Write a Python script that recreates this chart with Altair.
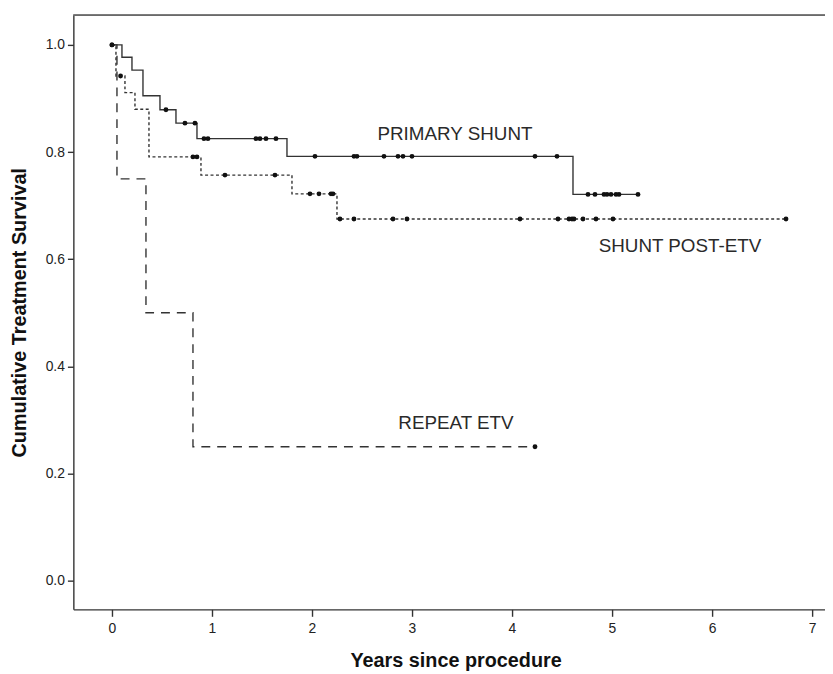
import altair as alt
import pandas as pd

# ---- data ----
groups = ["PRIMARY SHUNT", "SHUNT POST-ETV", "REPEAT ETV"]

primary_times = [0.0, 0.10, 0.20, 0.31, 0.48, 0.64, 0.85, 1.75, 4.61, 5.26]
primary_surv = [1.0, 0.977, 0.953, 0.905, 0.879, 0.854, 0.825, 0.792, 0.721, 0.721]
primary_censor = [0.0, 0.54, 0.73, 0.83, 0.92, 0.96, 1.44, 1.48, 1.54, 1.64, 2.03,
                  2.42, 2.45, 2.72, 2.86, 2.91, 3.00, 4.23, 4.45, 4.76, 4.83, 4.92,
                  4.95, 4.99, 5.04, 5.07, 5.26]

post_times = [0.0, 0.04, 0.13, 0.23, 0.37, 0.89, 1.80, 2.25, 6.74]
post_surv = [1.0, 0.942, 0.911, 0.880, 0.791, 0.757, 0.722, 0.675, 0.675]
post_censor = [0.0, 0.086, 0.81, 0.85, 1.13, 1.63, 1.98, 2.07, 2.19, 2.21, 2.28,
               2.42, 2.81, 2.95, 4.08, 4.46, 4.57, 4.60, 4.62, 4.71, 4.84, 5.01, 6.74]

repeat_times = [0.0, 0.05, 0.34, 0.81, 4.23]
repeat_surv = [1.0, 0.75, 0.5, 0.25, 0.25]
repeat_censor = [4.23]

label_text = ["PRIMARY SHUNT", "SHUNT POST-ETV", "REPEAT ETV"]
label_t = [3.43, 5.68, 3.44]
label_s = [0.834, 0.625, 0.294]

x_ticks = [0, 1, 2, 3, 4, 5, 6, 7]
y_ticks = [0.0, 0.2, 0.4, 0.6, 0.8, 1.0]


def step_df(name, times, surv):
    return pd.DataFrame({"group": name, "t": times, "s": surv, "o": range(len(times))})


def censor_df(name, censors, times, surv):
    vals = []
    for c in censors:
        v = surv[0]
        for tt, ss in zip(times, surv):
            if tt <= c + 1e-9:
                v = ss
        vals.append(v)
    return pd.DataFrame({"group": name, "t": censors, "s": vals})


lines = {
    groups[0]: step_df(groups[0], primary_times, primary_surv),
    groups[1]: step_df(groups[1], post_times, post_surv),
    groups[2]: step_df(groups[2], repeat_times, repeat_surv),
}
cens = pd.concat([
    censor_df(groups[0], primary_censor, primary_times, primary_surv),
    censor_df(groups[1], post_censor, post_times, post_surv),
    censor_df(groups[2], repeat_censor, repeat_times, repeat_surv),
])
labels = pd.DataFrame({"text": label_text, "t": label_t, "s": label_s})

W, H = 759, 600
xs = alt.Scale(domain=[-0.386, 7.13], nice=False, zero=False)
ys = alt.Scale(domain=[-0.0536, 1.0555], nice=False, zero=False)

x_enc = alt.X("t:Q", scale=xs, axis=alt.Axis(
    values=x_ticks, format="d", title="Years since procedure", grid=False,
    tickSize=7, labelPadding=5, titleY=52, titleBaseline="middle", titleX=386))
y_enc = alt.Y("s:Q", scale=ys, axis=alt.Axis(
    values=y_ticks, format=".1f", title="Cumulative Treatment Survival", grid=False,
    tickSize=6, labelPadding=3, titleX=-54, titleY=300, titleBaseline="middle",
    titleAlign="center"))

dash = {groups[0]: [1, 0], groups[1]: [3, 2.5], groups[2]: [9, 7]}
layers = []
for g in groups:
    layers.append(
        alt.Chart(lines[g]).mark_line(
            interpolate="step-after", color="#333333", strokeWidth=1.4,
            strokeDash=dash[g]
        ).encode(x=x_enc, y=y_enc, order="o:Q")
    )

dots = alt.Chart(cens).mark_circle(size=24, color="#111111", opacity=1).encode(
    x=alt.X("t:Q", scale=xs), y=alt.Y("s:Q", scale=ys))

texts = alt.Chart(labels).mark_text(
    font="Liberation Sans", fontSize=19, color="#2a2a2a"
).encode(x=alt.X("t:Q", scale=xs), y=alt.Y("s:Q", scale=ys), text="text:N")

top_rule = alt.Chart(labels).mark_rule(color="#6a6a6a", strokeWidth=1.6).encode(
    x=alt.value(0), x2=alt.value(W), y=alt.value(0))

chart = alt.layer(*layers, dots, texts, top_rule).properties(
    width=W, height=H,
    background="white",
    autosize=alt.AutoSizeParams(type="none"),
    padding={"left": 66, "top": 4, "right": 0, "bottom": 62},
).configure_view(stroke=None).configure_axis(
    domainColor="#333333", domainWidth=1.4, tickColor="#333333", tickWidth=1.4,
    labelFont="Liberation Sans", labelFontSize=14, labelColor="#222222",
    titleFont="Liberation Sans", titleFontSize=20, titleFontWeight="bold",
    titleColor="#111111",
)

chart.save("out.html", embed_options={"renderer": "svg", "actions": False})
